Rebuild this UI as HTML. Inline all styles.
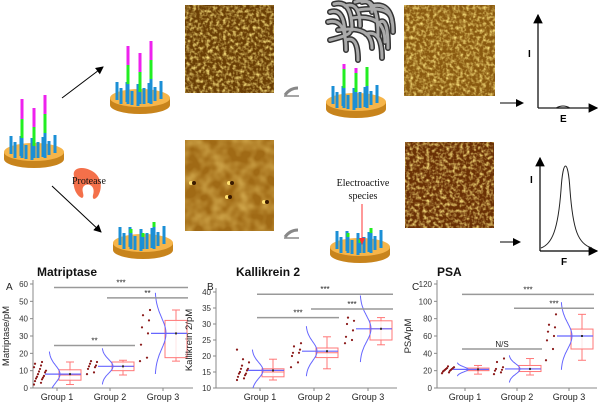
<!DOCTYPE html>
<html><head><meta charset="utf-8"><style>
body{margin:0;background:#fff;width:600px;height:413px;overflow:hidden;font-family:"Liberation Sans",sans-serif}
svg{display:block}
</style></head><body>
<svg id="fig" width="600" height="413" viewBox="0 0 600 413">
<defs>
<filter id="afm1" x="0" y="0" width="100%" height="100%"><feTurbulence type="fractalNoise" baseFrequency="0.3" numOctaves="2" seed="3"/><feColorMatrix type="matrix" values="0 0 0 0 0.95  0 0 0 0 0.75  0 0 0 0 0.2  2.2 0 0 0 -0.9"/></filter>
<filter id="afm2" x="0" y="0" width="100%" height="100%"><feTurbulence type="fractalNoise" baseFrequency="0.08" numOctaves="2" seed="7"/><feColorMatrix type="matrix" values="0 0 0 0 0.85  0 0 0 0 0.6  0 0 0 0 0.15  1.2 0 0 0 -0.4"/></filter>
<marker id="ah" markerWidth="8" markerHeight="8" refX="7" refY="4" orient="auto"><path d="M0,0 L8,4 L0,8 z" fill="#000"/></marker>
</defs>
<g id="diagram"></g>
<g id="charts"></g>
</svg>
<script>
// ---------- chart data ----------
const groups = ["Group 1","Group 2","Group 3"];
const matriptaseQ1 = [4.5, 10, 17.5];
const matriptaseQ3 = [10.5, 15, 39];
const matriptaseMed = [7.5, 12.5, 31.5];
const matriptaseLo = [2, 7.5, 15.5];
const matriptaseHi = [15, 16, 45];
const matriptaseMean = [8, 12.5, 31.5];
const matriptaseSd = [5, 4, 9];
const matriptasePts = [[2,3,4,5,5.5,6,6.5,7,8,9,9.5,10,11,12,13,14,15],[8,9,11,12,12.5,13,14,15,15.5],[15.5,17.5,25,31.5,35,39,42,45]];
const matriptaseTicks = [0,10,20,30,40,50,60];
const matriptaseSig = [[0,2,58,"***"],[1,2,52,"**"],[0,1,24.5,"**"]];

const kallikreinQ1 = [13.5, 19.5, 25];
const kallikreinQ3 = [16, 22.5, 31];
const kallikreinMed = [15, 21, 28.5];
const kallikreinLo = [12.5, 16, 23.5];
const kallikreinHi = [19, 26, 32];
const kallikreinMean = [15.5, 21.5, 28.5];
const kallikreinSd = [2.5, 3, 4];
const kallikreinPts = [[12.5,13,13.5,14,14.5,14.5,15,15.5,16,16,17,18,19,22],[16.5,18,20,21,21,22,23,24],[24,25,26,28,30,31,32]];
const kallikreinTicks = [10,15,20,25,30,35,40];
const kallikreinSig = [[0,2,39.3,"***"],[1,2,34.7,"***"],[0,1,32,"***"]];

const psaQ1 = [20, 19, 45];
const psaQ3 = [23, 26, 68];
const psaMed = [21, 22, 60];
const psaLo = [16, 15, 32];
const psaHi = [26, 34, 85];
const psaMean = [21.5, 22, 60];
const psaSd = [3, 6, 15];
const psaPts = [[17,18,19,20,20,21,21,22,22,23,23,24,25],[16,18,20,21,22,24,30,34],[32,45,55,60,65,70,73,85]];
const psaTicks = [0,20,40,60,80,100,120];
const psaSig = [[0,2,108,"***"],[1,2,92,"***"],[0,1,45,"N/S"]];

const NS="http://www.w3.org/2000/svg";
function mk(parent,tag,attrs,text){const e=document.createElementNS(NS,tag);for(const k in attrs)e.setAttribute(k,attrs[k]);if(text!==undefined)e.textContent=text;parent.appendChild(e);return e;}

function chart(cfg){
  const g=mk(document.getElementById('charts'),'g',{});
  
  
  const ymin=cfg.ticks[0], ymax=cfg.ticks[cfg.ticks.length-1];
  const Y=v=>cfg.y0-(v-ymin)/(ymax-ymin)*(cfg.y0-cfg.y1);
  const X=i=>cfg.gx[i];
  mk(g,'line',{x1:cfg.ax,y1:cfg.y1-4,x2:cfg.ax,y2:cfg.y0,stroke:'#888','stroke-width':1});
  mk(g,'line',{x1:cfg.ax,y1:cfg.y0,x2:cfg.ax2,y2:cfg.y0,stroke:'#888','stroke-width':1});
  cfg.ticks.forEach(t=>{
    mk(g,'line',{x1:cfg.ax-3,y1:Y(t),x2:cfg.ax,y2:Y(t),stroke:'#888'});
    const tl=mk(g,'text',{x:cfg.ax-5,y:Y(t)+3,'font-size':8,'text-anchor':'end',fill:'#333'},t);
    
    
  });
  groups.forEach((gn,i)=>{
    mk(g,'line',{x1:X(i),y1:cfg.y0,x2:X(i),y2:cfg.y0+3,stroke:'#888'});
    const l=mk(g,'text',{x:X(i),y:cfg.y0+12,'font-size':9,'text-anchor':'middle',fill:'#222'},gn);
    
    
  });
  const tt=mk(g,'text',{x:cfg.tx,y:276,'font-size':12,'font-weight':'bold',fill:'#111'},cfg.title);
  
  
  const pl=mk(g,'text',{x:cfg.lx,y:290,'font-size':10,fill:'#222'},cfg.letter);
  
  
  const yt=mk(g,'text',{x:0,y:0,'font-size':9.5,'text-anchor':'middle',fill:'#222',transform:`translate(${cfg.ax-cfg.yo},${(cfg.y0+cfg.y1)/2}) rotate(-90)`},cfg.ytitle);
  
  
  groups.forEach((gn,i)=>{
    const bx=X(i)+2, bw=22;
    const wl=mk(g,'line',{x1:bx+bw/2,y1:Y(cfg.hi[i]),x2:bx+bw/2,y2:Y(cfg.lo[i]),stroke:'#f77','stroke-width':1});
    
    
    [cfg.hi[i],cfg.lo[i]].forEach(v=>mk(g,'line',{x1:bx+bw/2-4,y1:Y(v),x2:bx+bw/2+4,y2:Y(v),stroke:'#f77'}));
    const box=mk(g,'rect',{x:bx,y:Y(cfg.q3[i]),width:bw,height:Y(cfg.q1[i])-Y(cfg.q3[i]),fill:'#fff','fill-opacity':0.8,stroke:'#f77','stroke-width':1});
    
    
    mk(g,'line',{x1:bx,y1:Y(cfg.med[i]),x2:bx+bw,y2:Y(cfg.med[i]),stroke:'#f77'});
    cfg.pts[i].forEach((v,k)=>{
      const px=X(i)-23+((k*7)%13);
      const c=mk(g,'circle',{cx:px,cy:Y(v),r:1.1,fill:'#8b1a1a'});
      
      
    });
    const m=cfg.mean[i], sd=cfg.sd[i];
    let d='';
    for(let s=-2.6;s<=2.6001;s+=0.1){
      const v=m+s*sd; if(v<ymin) continue;
      const px=X(i)-8+11*Math.exp(-s*s/2);
      d+=(d?'L':'M')+px.toFixed(1)+','+Y(v).toFixed(1);
    }
    const cv=mk(g,'path',{d:d,fill:'none',stroke:'#66f','stroke-width':1});
    
    
    const ml=mk(g,'line',{x1:X(i)-12,y1:Y(m),x2:bx+bw,y2:Y(m),stroke:'#66f','stroke-width':1.2});
    
    
    mk(g,'rect',{x:bx+bw/2-1,y:Y(m)-1,width:2,height:2,fill:'#333'});
  });
  cfg.sig.forEach(s=>{
    const sl=mk(g,'line',{x1:X(s[0])-3,y1:Y(s[2]),x2:X(s[1])+25,y2:Y(s[2]),stroke:'#999','stroke-width':1.5});
    
    
    const st=mk(g,'text',{x:(X(s[0])+X(s[1]))/2+11,y:Y(s[2])-2,'font-size':8,'text-anchor':'middle',fill:'#222'},s[3]);
    
    
  });
}
chart({name:'matriptase-chart',title:'Matriptase',letter:'A',ytitle:'Matriptase/pM',tx:37,lx:6,ax:33,ax2:193,y0:388,y1:284,yo:24,gx:[57,110,163],ticks:matriptaseTicks,q1:matriptaseQ1,q3:matriptaseQ3,med:matriptaseMed,lo:matriptaseLo,hi:matriptaseHi,mean:matriptaseMean,sd:matriptaseSd,pts:matriptasePts,sig:matriptaseSig});
chart({name:'kallikrein-chart',title:'Kallikrein 2',letter:'B',ytitle:'Kallikrein 2/pM',tx:236,lx:207,ax:216,ax2:397,y0:388,y1:292,yo:24,gx:[260,314,368],ticks:kallikreinTicks,q1:kallikreinQ1,q3:kallikreinQ3,med:kallikreinMed,lo:kallikreinLo,hi:kallikreinHi,mean:kallikreinMean,sd:kallikreinSd,pts:kallikreinPts,sig:kallikreinSig});
chart({name:'psa-chart',title:'PSA',letter:'C',ytitle:'PSA/pM',tx:437,lx:412,ax:437,ax2:597,y0:388,y1:284,yo:26,gx:[465,517,569],ticks:psaTicks,q1:psaQ1,q3:psaQ3,med:psaMed,lo:psaLo,hi:psaHi,mean:psaMean,sd:psaSd,pts:psaPts,sig:psaSig});

// ---------- schematic ----------
const D=document.getElementById('diagram');
function disc(cx,cy,name,bars){
  const g=mk(D,'g',{});
  
  
  mk(g,'path',{d:`M${cx-30},${cy} L${cx-30},${cy+7} A30,9 0 0 0 ${cx+30},${cy+7} L${cx+30},${cy} Z`,fill:'#c8841c'});
  mk(g,'ellipse',{cx:cx,cy:cy,rx:30,ry:9,fill:'#f6b54a'});
  const base=[-23,-19,-13,-8,-2,4,9,15,21];
  base.forEach((dx,k)=>{
    const h=[18,16,20,14,22,16,20,14,18][k];
    const yb=cy+([2,6,4,7,8,6,5,3,1][k]);
    mk(g,'rect',{x:cx+dx-1.5,y:yb-h,width:3,height:h,fill:'#1b8fd6'});
  });
  bars.forEach(b=>{
    const [dx,blue,green,mag]=b; let y=cy+6;
    mk(g,'rect',{x:cx+dx-1.5,y:y-blue,width:3,height:blue,fill:'#1b8fd6'}); y-=blue;
    if(green){mk(g,'rect',{x:cx+dx-1.5,y:y-green,width:3,height:green,fill:'#22ee22'}); y-=green;}
    if(mag){mk(g,'rect',{x:cx+dx-1.5,y:y-mag,width:3,height:mag,fill:'#ee22ee'});}
  });
}
disc(34,152,'probe-electrode',[[-12,20,19,20],[0,12,19,19],[11,25,19,19]]);
disc(140,98,'hybridized-electrode',[[-12,20,19,19],[0,12,20,19],[11,25,19,19]]);
disc(143,243,'cleaved-electrode',[[-12,16,4,0],[0,12,4,0],[11,22,5,0]]);
disc(356,102,'blocked-electrode',[[-12,20,19,5],[0,16,19,5],[11,22,19,0]]);
disc(360,247,'signal-electrode',[[-12,16,4,0],[0,10,4,0],[11,20,5,0]]);
// polymer cluster
const pc=mk(D,'g',{stroke:'#333','stroke-width':6,fill:'none','stroke-linecap':'round'});


const segs=[[330,12,345,38],[334,4,352,30],[345,6,360,26],[358,10,392,22],[362,2,378,36],[338,30,372,48],[352,18,385,42],[372,6,393,32],[328,22,346,50],[366,34,382,58],[346,40,358,60],[380,22,388,48],[330,40,350,32],[355,2,372,12]];
segs.forEach(p=>mk(pc,'path',{d:`M${p[0]},${p[1]} Q${p[2]},${p[1]-5} ${p[2]},${p[3]}`}));
segs.forEach(p=>mk(pc,'path',{d:`M${p[0]},${p[1]} Q${p[2]},${p[1]-5} ${p[2]},${p[3]}`,stroke:'#aaa','stroke-width':3}));
// AFM images
[[185,5,89,88,'afm1','#6a3e05'],[185,140,89,91,'afm2','#a06a15'],[404,5,91,91,'afm1','#8a5a10'],[405,142,89,86,'afm1','#6a3005']].forEach((a,i)=>{
  const r=mk(D,'rect',{x:a[0],y:a[1],width:a[2],height:a[3],fill:a[5]});
  
  
  mk(D,'rect',{x:a[0],y:a[1],width:a[2],height:a[3],filter:`url(#${a[4]})`});
});
[[192,183],[230,183],[228,197],[265,202]].forEach(p=>{mk(D,'circle',{cx:p[0]-1,cy:p[1],r:2,fill:'#ffe070'});mk(D,'circle',{cx:p[0]+2,cy:p[1],r:2,fill:'#3a1a00'});});
// arrows
[[62,98,103,67],[52,186,101,232],[500,103,523,103],[500,242,520,242]].forEach(a=>{
  const l=mk(D,'line',{x1:a[0],y1:a[1],x2:a[2],y2:a[3],stroke:'#000','stroke-width':1,'marker-end':'url(#ah)'});
  
  
});
[[290,95],[290,237]].forEach(p=>{
  const s=mk(D,'path',{d:`M${p[0]-5},${p[1]} Q${p[0]},${p[1]-7} ${p[0]+8},${p[1]-7}`,stroke:'#888','stroke-width':3,fill:'none'});
  
  
  mk(D,'line',{x1:p[0]-6,y1:p[1]+1,x2:p[0]+9,y2:p[1]+1,stroke:'#888','stroke-width':1.5});
});
// protease
const pr=mk(D,'path',{d:'M74,176 C72,168 82,166 90,170 C100,174 104,186 98,196 C95,200 92,200 93,195 C96,186 88,182 84,186 C80,190 86,196 82,198 C76,196 72,186 74,176 Z',fill:'#f4704a'});


const pt=mk(D,'text',{x:72,y:184,'font-size':10,'font-family':'Liberation Serif, serif',fill:'#111'},'Protease');


const et1=mk(D,'text',{x:363,y:186,'font-size':10,'font-family':'Liberation Serif, serif','text-anchor':'middle',fill:'#111'},'Electroactive');


mk(D,'text',{x:363,y:199,'font-size':10,'font-family':'Liberation Serif, serif','text-anchor':'middle',fill:'#111'},'species');
mk(D,'line',{x1:362,y1:204,x2:362,y2:242,stroke:'#f33','stroke-width':1});
mk(D,'path',{d:'M359,238 L362,245 L365,238 Z',fill:'#f33'});
// response plots
function resp(x0,yTop,yB,xEnd,d,l1,l2,ly1,lx2){
  const g=mk(D,'g',{});
  
  
  mk(g,'line',{x1:x0,y1:yB,x2:x0,y2:yTop,stroke:'#000','stroke-width':1.2,'marker-end':'url(#ah)'});
  mk(g,'line',{x1:x0,y1:yB,x2:xEnd,y2:yB,stroke:'#000','stroke-width':1.2,'marker-end':'url(#ah)'});
  mk(g,'path',{d:d,fill:'none',stroke:'#222','stroke-width':1});
  mk(g,'text',{x:x0-10,y:ly1,'font-size':10,'font-weight':'bold'},l1);
  mk(g,'text',{x:lx2,y:yB+14,'font-size':10,'font-weight':'bold'},l2);
}
resp(538,15,108,597,'M538,108 L556,108 Q563,104 570,108 L590,108','I','E',57,560);
resp(540,158,251,597,'M541,248 C552,244 558,230 561,190 C563,158 568,158 570,190 C573,230 578,244 592,248','I','F',183,561);
</script>
</body></html>
